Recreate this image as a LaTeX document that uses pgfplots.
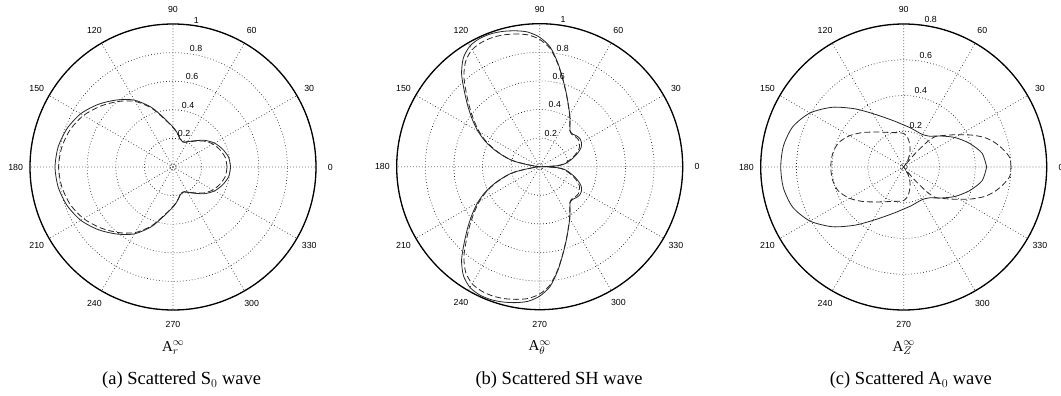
\documentclass[border=0pt]{standalone}
\usepackage{fontspec}
\setmainfont{Liberation Serif}
\newfontfamily\helv{Liberation Sans}
\usepackage{pgfplots}
\pgfplotsset{compat=1.18}
\usepgfplotslibrary{polar}

\newcommand{\ticksize}{\helv\fontsize{8.8}{10}\selectfont}

\pgfplotsset{
  matpolar/.style={
    width=286pt, height=286pt, scale only axis, anchor=center,
    ymin=0,
    xtick={0,30,...,330},
    grid=major,
    major grid style={black!85, line width=0.7pt, dash pattern=on 0.7pt off 2.3pt},
    major tick length=0pt,
    yticklabels={},
    x axis line style={line width=1.3pt},
    y axis line style={draw=none},
    xticklabel={\pgfmathprintnumber{\tick}},
    /pgf/number format/assume math mode=true,
    xticklabel style={font=\ticksize, anchor=center,
      xshift={14.3*cos(\tick)}, yshift={14.3*sin(\tick)}},
    extra y ticks={0.02}, extra y tick labels={},
    clip=false,
  },
  solidcurve/.style={black!85, line width=0.8pt, smooth, tension=0.45},
  dashcurve/.style={black!85, line width=0.8pt, dash pattern=on 6pt off 3pt, smooth, tension=0.45},
}
\tikzset{rlabel/.style={anchor=south west, inner sep=0.6pt, font=\ticksize}}

\begin{document}
\begin{tikzpicture}
\useasboundingbox (0,0) rectangle (1061pt,-396pt);

% (a) radial amplitude of the scattered S0 wave
\begin{polaraxis}[matpolar, at={(173pt,-167pt)}, ymax=1, ytick={0.2,0.4,0.6,0.8,1}]
\addplot[solidcurve] coordinates {
(0,0.403)(10,0.395)(20,0.368)(30,0.335)(40,0.290)(50,0.240)(60,0.205)(65,0.192)(70,0.190)(75,0.200)(80,0.225)(85,0.252)(90,0.280)(100,0.345)(110,0.445)(120,0.540)(130,0.612)(140,0.682)(150,0.745)(160,0.788)(170,0.815)(180,0.825)
(190,0.815)(200,0.788)(210,0.745)(220,0.682)(230,0.612)(240,0.540)(250,0.445)(260,0.345)(270,0.280)(275,0.252)(280,0.225)(285,0.200)(290,0.190)(295,0.192)(300,0.205)(310,0.240)(320,0.290)(330,0.335)(340,0.368)(350,0.395)(360,0.403)};
\addplot[dashcurve] coordinates {
(0,0.378)(10,0.372)(20,0.350)(30,0.322)(40,0.282)(50,0.236)(60,0.202)(65,0.190)(70,0.188)(75,0.198)(80,0.222)(85,0.249)(90,0.276)(100,0.340)(110,0.438)(120,0.530)(130,0.598)(140,0.662)(150,0.722)(160,0.765)(170,0.790)(180,0.800)
(190,0.790)(200,0.765)(210,0.722)(220,0.662)(230,0.598)(240,0.530)(250,0.438)(260,0.340)(270,0.276)(275,0.249)(280,0.222)(285,0.198)(290,0.188)(295,0.190)(300,0.202)(310,0.236)(320,0.282)(330,0.322)(340,0.350)(350,0.372)(360,0.378)};
\node[rlabel] at (axis cs:82,0.21) {0.2};
\node[rlabel] at (axis cs:82,0.41) {0.4};
\node[rlabel] at (axis cs:82,0.61) {0.6};
\node[rlabel] at (axis cs:82,0.81) {0.8};
\node[rlabel] at (axis cs:82,1.01) {1};
\end{polaraxis}

% (b) tangential amplitude of the scattered SH wave
\begin{polaraxis}[matpolar, at={(539.7pt,-166.7pt)}, ymax=1, ytick={0.2,0.4,0.6,0.8,1}]
\addplot[solidcurve] coordinates {
(0,0.000)(1,0.050)(3,0.120)(5,0.160)(8,0.190)(10,0.205)(15,0.245)(20,0.285)(25,0.320)(30,0.337)(35,0.343)(40,0.336)(45,0.324)(50,0.330)(55,0.370)(60,0.420)(65,0.475)(70,0.545)(75,0.630)(80,0.735)(85,0.840)(90,0.905)(95,0.945)(100,0.965)(105,0.980)(110,0.990)(115,0.990)(120,0.975)(125,0.930)(130,0.850)(135,0.745)(140,0.655)(145,0.575)(150,0.500)(155,0.420)(160,0.330)(165,0.240)(168,0.180)(170,0.100)(173,0.030)(176,0.008)(180,0.000)
(184,0.008)(187,0.030)(190,0.100)(192,0.180)(195,0.240)(200,0.330)(205,0.420)(210,0.500)(215,0.575)(220,0.655)(225,0.745)(230,0.850)(235,0.930)(240,0.975)(245,0.990)(250,0.990)(255,0.980)(260,0.965)(265,0.945)(270,0.905)(275,0.840)(280,0.735)(285,0.630)(290,0.545)(295,0.475)(300,0.420)(305,0.370)(310,0.330)(315,0.324)(320,0.336)(325,0.343)(330,0.337)(335,0.320)(340,0.285)(345,0.245)(350,0.205)(352,0.190)(355,0.160)(357,0.120)(359,0.050)(360,0.000)};
\addplot[dashcurve] coordinates {
(0,0.000)(1,0.050)(3,0.110)(5,0.150)(8,0.180)(10,0.195)(15,0.235)(20,0.272)(25,0.305)(30,0.322)(35,0.330)(40,0.326)(45,0.318)(50,0.328)(55,0.368)(60,0.418)(65,0.473)(70,0.543)(75,0.628)(80,0.730)(85,0.830)(90,0.890)(95,0.925)(100,0.942)(105,0.955)(110,0.962)(115,0.960)(120,0.945)(125,0.902)(130,0.825)(135,0.725)(140,0.638)(145,0.560)(150,0.488)(155,0.410)(160,0.322)(165,0.235)(168,0.175)(170,0.097)(173,0.029)(176,0.008)(180,0.000)
(184,0.008)(187,0.029)(190,0.097)(192,0.175)(195,0.235)(200,0.322)(205,0.410)(210,0.488)(215,0.560)(220,0.638)(225,0.725)(230,0.825)(235,0.902)(240,0.945)(245,0.960)(250,0.962)(255,0.955)(260,0.942)(265,0.925)(270,0.890)(275,0.830)(280,0.730)(285,0.628)(290,0.543)(295,0.473)(300,0.418)(305,0.368)(310,0.328)(315,0.318)(320,0.326)(325,0.330)(330,0.322)(335,0.305)(340,0.272)(345,0.235)(350,0.195)(352,0.180)(355,0.150)(357,0.110)(359,0.050)(360,0.000)};
\node[rlabel] at (axis cs:82,0.21) {0.2};
\node[rlabel] at (axis cs:82,0.41) {0.4};
\node[rlabel] at (axis cs:82,0.61) {0.6};
\node[rlabel] at (axis cs:82,0.81) {0.8};
\node[rlabel] at (axis cs:82,1.01) {1};
\end{polaraxis}

% (c) out-of-plane amplitude of the scattered A0 wave
\begin{polaraxis}[matpolar, at={(903.7pt,-167pt)}, ymax=0.8, ytick={0.2,0.4,0.6,0.8}]
\addplot[solidcurve] coordinates {
(0,0.464)(10,0.445)(20,0.390)(30,0.330)(40,0.270)(50,0.225)(60,0.210)(70,0.212)(80,0.222)(90,0.235)(100,0.258)(110,0.292)(120,0.345)(130,0.425)(140,0.520)(150,0.605)(160,0.660)(170,0.683)(180,0.688)
(190,0.683)(200,0.660)(210,0.605)(220,0.520)(230,0.425)(240,0.345)(250,0.292)(260,0.258)(270,0.235)(280,0.222)(290,0.212)(300,0.210)(310,0.225)(320,0.270)(330,0.330)(340,0.390)(350,0.445)(360,0.464)};
\addplot[dashcurve] coordinates {
(0,0.600)(5,0.596)(10,0.565)(15,0.528)(20,0.482)(25,0.422)(30,0.362)(35,0.312)(40,0.272)(44,0.245)(47,0.190)(50,0.090)(52,0.000)(55,0.020)(60,0.050)(65,0.078)(70,0.105)(75,0.130)(80,0.155)(85,0.175)(90,0.188)(100,0.195)(110,0.205)(120,0.225)(130,0.255)(140,0.300)(150,0.350)(160,0.390)(170,0.405)(180,0.408)
(190,0.405)(200,0.390)(210,0.350)(220,0.300)(230,0.255)(240,0.225)(250,0.205)(260,0.195)(270,0.188)(275,0.175)(280,0.155)(285,0.130)(290,0.105)(295,0.078)(300,0.050)(305,0.020)(308,0.000)(310,0.090)(313,0.190)(316,0.245)(320,0.272)(325,0.312)(330,0.362)(335,0.422)(340,0.482)(345,0.528)(350,0.565)(355,0.596)(360,0.600)};
\node[rlabel] at (axis cs:82,0.21) {0.2};
\node[rlabel] at (axis cs:82,0.41) {0.4};
\node[rlabel] at (axis cs:82,0.61) {0.6};
\node[rlabel] at (axis cs:82,0.81) {0.8};
\end{polaraxis}

% component labels and sub-captions
\node[font=\fontsize{15}{17}\selectfont] at (173.3pt,-348pt) {A$_r^\infty$};
\node[font=\fontsize{15}{17}\selectfont] at (539.7pt,-348pt) {A$_\theta^\infty$};
\node[font=\fontsize{15}{17}\selectfont] at (903.7pt,-348pt) {A$_Z^\infty$};
\node[font=\fontsize{18.5}{21}\selectfont] at (181.6pt,-380pt) {(a) Scattered S$_0$ wave};
\node[font=\fontsize{18.5}{21}\selectfont] at (559pt,-380pt) {(b) Scattered SH wave};
\node[font=\fontsize{18.5}{21}\selectfont] at (910.8pt,-380pt) {(c) Scattered A$_0$ wave};
\end{tikzpicture}
\end{document}
